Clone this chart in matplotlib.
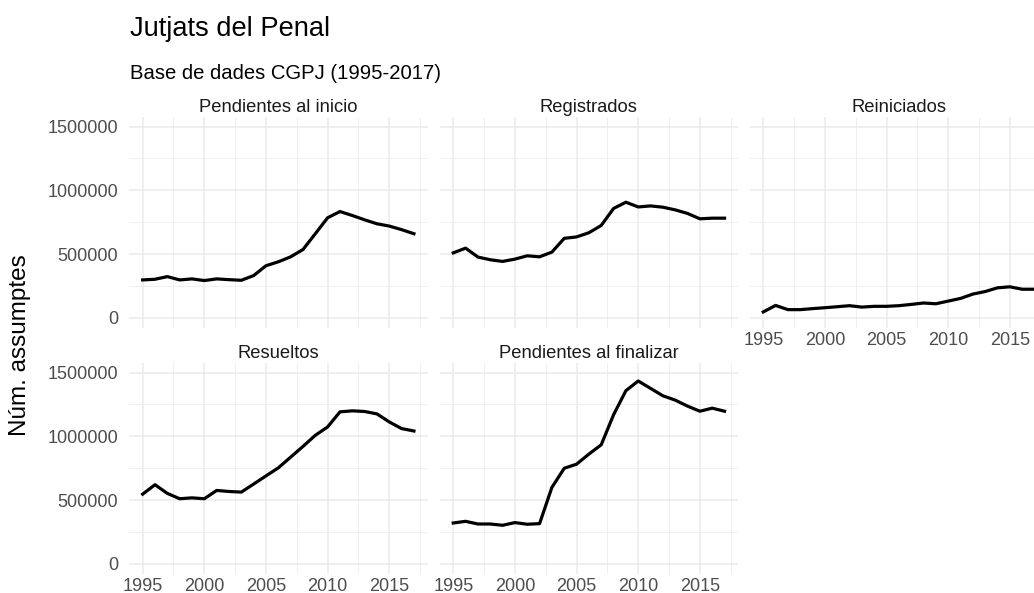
import matplotlib
matplotlib.use("Agg")
import matplotlib.pyplot as plt
from matplotlib.ticker import FixedLocator

plt.rcParams['font.family'] = ['Liberation Sans', 'DejaVu Sans']

years = list(range(1995, 2018))

pendientes_inicio = [298000, 303000, 324000, 298000, 306000, 293000, 306000, 300000, 295000, 332000,
                     409000, 440000, 479000, 536000, 660000, 785000, 834000, 803000, 769000, 738000,
                     720000, 692000, 660000]
registrados = [510000, 547000, 477000, 456000, 443000, 461000, 487000, 479000, 516000, 624000,
               635000, 668000, 725000, 858000, 907000, 870000, 878000, 868000, 847000, 819000,
               777000, 782000, 782000]
reiniciados = [47000, 98000, 65000, 65000, 73000, 80000, 88000, 96000, 85000, 91000,
               91000, 96000, 106000, 117000, 111000, 132000, 153000, 187000, 207000, 236000,
               244000, 225000, 225000]
resueltos = [547000, 621000, 553000, 511000, 518000, 511000, 576000, 568000, 563000, 626000,
             690000, 753000, 837000, 921000, 1008000, 1074000, 1192000, 1200000, 1195000, 1176000,
             1113000, 1061000, 1042000]
pendientes_final = [321000, 334000, 313000, 313000, 303000, 324000, 311000, 316000, 600000, 750000,
                    782000, 861000, 934000, 1169000, 1358000, 1434000, 1376000, 1318000, 1284000, 1237000,
                    1197000, 1221000, 1197000]

panel_titles = ["Pendientes al inicio", "Registrados", "Reiniciados", "Resueltos", "Pendientes al finalizar"]
series = [pendientes_inicio, registrados, reiniciados, resueltos, pendientes_final]
x_ticks = [1995, 2000, 2005, 2010, 2015]
y_ticks = [0, 500000, 1000000, 1500000]
y_tick_labels = ["0", "500000", "1000000", "1500000"]

title = "Jutjats del Penal"
subtitle = "Base de dades CGPJ (1995-2017)"
ylabel = "Núm. assumptes"

W, H = 1034, 593
fig = plt.figure(figsize=(W / 100, H / 100), dpi=100)

def rect(left, top, width, height):
    return [left / W, 1 - (top + height) / H, width / W, height / H]

col_left = [129.1, 439.7, 749.7]
pw = 298.4
row_top = [117.0, 363.0]
ph = 210.5

grid_col = "#EBEBEB"
tick_col = "#4D4D4D"

ymin, ymax = -75000, 1575000
xmin, xmax = 1995 - 1.1, 2017 + 1.1

for i, (name, vals) in enumerate(zip(panel_titles, series)):
    r, c = divmod(i, 3)
    ax = fig.add_axes(rect(col_left[c], row_top[r], pw, ph))
    ax.set_xlim(xmin, xmax)
    ax.set_ylim(ymin, ymax)
    ax.xaxis.set_major_locator(FixedLocator(x_ticks))
    ax.xaxis.set_minor_locator(FixedLocator([1997.5, 2002.5, 2007.5, 2012.5, 2017.5]))
    ax.yaxis.set_major_locator(FixedLocator(y_ticks))
    ax.yaxis.set_minor_locator(FixedLocator([250000, 750000, 1250000]))
    ax.grid(which='major', color=grid_col, linewidth=1.1)
    ax.grid(which='minor', color=grid_col, linewidth=0.55)
    ax.set_axisbelow(True)
    for s in ax.spines.values():
        s.set_visible(False)
    ax.tick_params(which='both', length=0, colors=tick_col, labelsize=13)
    ax.tick_params(axis='x', pad=3.5)
    ax.tick_params(axis='y', pad=8)
    if c == 0:
        ax.set_yticklabels(y_tick_labels)
    else:
        ax.set_yticklabels([])
    if r == 1 or c == 2:
        ax.set_xticklabels([str(t) for t in x_ticks])
    else:
        ax.set_xticklabels([])
    ax.plot(years, vals, color="black", linewidth=2.3, solid_joinstyle='round')
    ax.text(0.5, 1 + 9.5 / ph, name, transform=ax.transAxes, ha='center', va='center',
            fontsize=13.2, color="#1A1A1A")

fig.text(130 / W, 1 - 36 / H, title, fontsize=19.6, color="black", ha='left', va='baseline')
fig.text(130 / W, 1 - 79 / H, subtitle, fontsize=14.6, color="black", ha='left', va='baseline')
fig.text(20 / W, 1 - 345 / H, ylabel, rotation=90, fontsize=17.5, color="black", ha='center', va='center')

fig.savefig("out.png", dpi=100)
